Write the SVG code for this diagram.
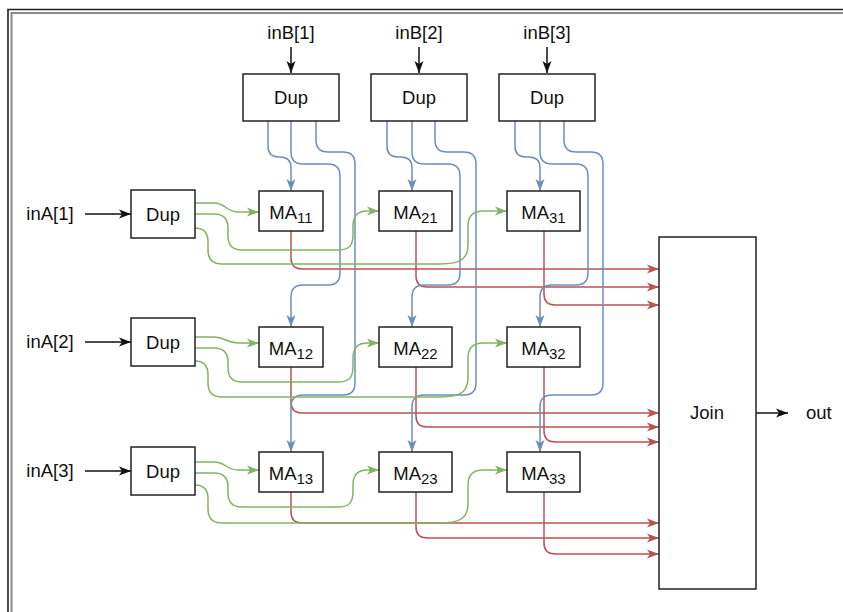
<svg xmlns="http://www.w3.org/2000/svg" width="843" height="612" viewBox="0 0 843 612">
  <style>
    .box { fill: #ffffff; stroke: #222222; stroke-width: 1.5; }
    .lbl { font-family: "Liberation Sans", Arial, sans-serif; font-size: 18.5px; fill: #111111; }
    .mid { text-anchor: middle; }
    .sub { font-size: 15px; }
    .wire { fill: none; stroke-width: 1.5; }
    .blk { stroke: #111111; marker-end: url(#ah-black); }
    .blue { stroke: #6c8ebf; marker-end: url(#ah-blue); }
    .green { stroke: #82b366; marker-end: url(#ah-green); }
    .red { stroke: #b85450; marker-end: url(#ah-red); }
  </style>
  <defs>
    <marker id="ah-black" viewBox="0 0 10 10" refX="10" refY="5" markerWidth="12" markerHeight="10" markerUnits="userSpaceOnUse" orient="auto" preserveAspectRatio="none">
      <path d="M0,0.5 L10,5 L0,9.5 L2.5,5 Z" fill="#111111"/>
    </marker>
    <marker id="ah-blue" viewBox="0 0 10 10" refX="10" refY="5" markerWidth="12" markerHeight="10" markerUnits="userSpaceOnUse" orient="auto" preserveAspectRatio="none">
      <path d="M0,0.5 L10,5 L0,9.5 L2.5,5 Z" fill="#6c8ebf"/>
    </marker>
    <marker id="ah-green" viewBox="0 0 10 10" refX="10" refY="5" markerWidth="12" markerHeight="10" markerUnits="userSpaceOnUse" orient="auto" preserveAspectRatio="none">
      <path d="M0,0.5 L10,5 L0,9.5 L2.5,5 Z" fill="#82b366"/>
    </marker>
    <marker id="ah-red" viewBox="0 0 10 10" refX="10" refY="5" markerWidth="12" markerHeight="10" markerUnits="userSpaceOnUse" orient="auto" preserveAspectRatio="none">
      <path d="M0,0.5 L10,5 L0,9.5 L2.5,5 Z" fill="#b85450"/>
    </marker>
  </defs>

  <rect width="843" height="612" fill="#ffffff"/>

  <!-- window frame along the top and left edges -->
  <path d="M8,612 V9.5 H843" fill="none" stroke="#222222" stroke-width="1.6"/>
  <path d="M11.5,612 V13 H843" fill="none" stroke="#888888" stroke-width="2"/>

  <!-- connectors -->
  <g id="connectors">
    <!-- inputs -->
    <path class="wire blk" d="M291,47 V73"/>
    <path class="wire blk" d="M419,47 V73"/>
    <path class="wire blk" d="M547,47 V73"/>
    <path class="wire blk" d="M85,214 H131"/>
    <path class="wire blk" d="M85,342 H131"/>
    <path class="wire blk" d="M85,471 H131"/>
    <path class="wire blk" d="M756,413 H788"/>

    <!-- red: results into Join -->
    <path class="wire red" d="M291,231 V258 Q291,269 302,269 H659"/>
    <path class="wire red" d="M416,231 V276 Q416,287 427,287 H659"/>
    <path class="wire red" d="M544,231 V294 Q544,305 555,305 H659"/>
    <path class="wire red" d="M291,367 V402 Q291,413 302,413 H659"/>
    <path class="wire red" d="M416,367 V416 Q416,427 427,427 H659"/>
    <path class="wire red" d="M544,367 V431 Q544,442 555,442 H659"/>
    <path class="wire red" d="M291,492 V512 Q291,523 302,523 H659"/>
    <path class="wire red" d="M416,492 V527 Q416,538 427,538 H659"/>
    <path class="wire red" d="M544,492 V543 Q544,554 555,554 H659"/>

    <!-- blue: column duplicators -->
    <path class="wire blue" d="M268,121 V146 Q268,157 279,157 H280 Q291,157 291,168 V191"/>
    <path class="wire blue" d="M291,121 V152 Q291,164 303,164 H328 Q340,164 340,176 V273 Q340,285 328,285 H303 Q291,285 291,297 V327"/>
    <path class="wire blue" d="M316,121 V140 Q316,152 328,152 H343 Q355,152 355,164 V383 Q355,395 343,395 H303 Q291,395 291,407 V452"/>

    <path class="wire blue" d="M387,121 V146 Q387,157 398,157 H401 Q412,157 412,168 V191"/>
    <path class="wire blue" d="M412,121 V152 Q412,164 424,164 H448 Q460,164 460,176 V273 Q460,285 448,285 H424 Q412,285 412,297 V327"/>
    <path class="wire blue" d="M435,121 V140 Q435,152 447,152 H464 Q476,152 476,164 V383 Q476,395 464,395 H424 Q412,395 412,407 V452"/>

    <path class="wire blue" d="M515,121 V146 Q515,157 526,157 H529 Q540,157 540,168 V191"/>
    <path class="wire blue" d="M540,121 V152 Q540,164 552,164 H576 Q588,164 588,176 V273 Q588,285 576,285 H552 Q540,285 540,297 V327"/>
    <path class="wire blue" d="M564,121 V140 Q564,152 576,152 H591 Q603,152 603,164 V383 Q603,395 591,395 H552 Q540,395 540,407 V452"/>

    <!-- green: row duplicators -->
    <path class="wire green" d="M195,203 H214 C226,203 226,212 238,212 H259"/>
    <path class="wire green" d="M195,214 H214 Q228,214 228,228 V236 Q228,250 242,250 H338 C350,250 353,245 353,234 V226 Q353,211 367,211 H379"/>
    <path class="wire green" d="M195,228 Q208,228 208,242 V250 Q208,264 222,264 H440 C462,264 468,258 468,244 V226 Q468,211 483,211 H507"/>

    <path class="wire green" d="M195,337 H214 C226,337 226,343 238,343 H259"/>
    <path class="wire green" d="M195,348 H214 Q228,348 228,362 V368 Q228,382 242,382 H338 C350,382 353,377 353,366 V358 Q353,343 367,343 H379"/>
    <path class="wire green" d="M195,361 Q208,361 208,375 V383 Q208,397 222,397 H440 C462,397 468,391 468,377 V358 Q468,343 483,343 H507"/>

    <path class="wire green" d="M195,462 H214 C226,462 226,470 238,470 H259"/>
    <path class="wire green" d="M195,473 H214 Q228,473 228,487 V493 Q228,507 242,507 H338 C350,507 353,502 353,491 V485 Q353,470 367,470 H379"/>
    <path class="wire green" d="M195,485 Q208,485 208,499 V509 Q208,523 222,523 H440 C462,523 468,517 468,503 V485 Q468,470 483,470 H507"/>
  </g>

  <!-- input and output labels -->
  <text class="lbl mid" x="291" y="39">inB[1]</text>
  <text class="lbl mid" x="419" y="39">inB[2]</text>
  <text class="lbl mid" x="547" y="39">inB[3]</text>
  <text class="lbl mid" x="50" y="220">inA[1]</text>
  <text class="lbl mid" x="50" y="348">inA[2]</text>
  <text class="lbl mid" x="50" y="477">inA[3]</text>
  <text class="lbl" x="806" y="419">out</text>

  <!-- column duplicators -->
  <g id="dupB1"><rect class="box" x="243" y="74" width="96" height="47"/><text class="lbl mid" x="291" y="104">Dup</text></g>
  <g id="dupB2"><rect class="box" x="371" y="74" width="96" height="47"/><text class="lbl mid" x="419" y="104">Dup</text></g>
  <g id="dupB3"><rect class="box" x="499" y="74" width="96" height="47"/><text class="lbl mid" x="547" y="104">Dup</text></g>

  <!-- row duplicators -->
  <g id="dupA1"><rect class="box" x="131" y="190" width="64" height="48"/><text class="lbl mid" x="163" y="220.5">Dup</text></g>
  <g id="dupA2"><rect class="box" x="131" y="318" width="64" height="48"/><text class="lbl mid" x="163" y="348.5">Dup</text></g>
  <g id="dupA3"><rect class="box" x="131" y="447" width="64" height="48"/><text class="lbl mid" x="163" y="477.5">Dup</text></g>

  <!-- multiply-accumulate cells -->
  <g id="MA11"><rect class="box" x="259" y="191" width="64" height="40"/><text class="lbl mid" x="291" y="219">MA<tspan class="sub" dy="4">11</tspan></text></g>
  <g id="MA21"><rect class="box" x="379" y="191" width="73" height="40"/><text class="lbl mid" x="415.5" y="219">MA<tspan class="sub" dy="4">21</tspan></text></g>
  <g id="MA31"><rect class="box" x="507" y="191" width="73" height="40"/><text class="lbl mid" x="543.5" y="219">MA<tspan class="sub" dy="4">31</tspan></text></g>

  <g id="MA12"><rect class="box" x="259" y="327" width="64" height="40"/><text class="lbl mid" x="291" y="355">MA<tspan class="sub" dy="4">12</tspan></text></g>
  <g id="MA22"><rect class="box" x="379" y="327" width="73" height="40"/><text class="lbl mid" x="415.5" y="355">MA<tspan class="sub" dy="4">22</tspan></text></g>
  <g id="MA32"><rect class="box" x="507" y="327" width="73" height="40"/><text class="lbl mid" x="543.5" y="355">MA<tspan class="sub" dy="4">32</tspan></text></g>

  <g id="MA13"><rect class="box" x="259" y="452" width="64" height="40"/><text class="lbl mid" x="291" y="480">MA<tspan class="sub" dy="4">13</tspan></text></g>
  <g id="MA23"><rect class="box" x="379" y="452" width="73" height="40"/><text class="lbl mid" x="415.5" y="480">MA<tspan class="sub" dy="4">23</tspan></text></g>
  <g id="MA33"><rect class="box" x="507" y="452" width="73" height="40"/><text class="lbl mid" x="543.5" y="480">MA<tspan class="sub" dy="4">33</tspan></text></g>

  <!-- collector -->
  <g id="join"><rect class="box" x="659" y="237" width="97" height="352"/><text class="lbl mid" x="707" y="419">Join</text></g>
</svg>
